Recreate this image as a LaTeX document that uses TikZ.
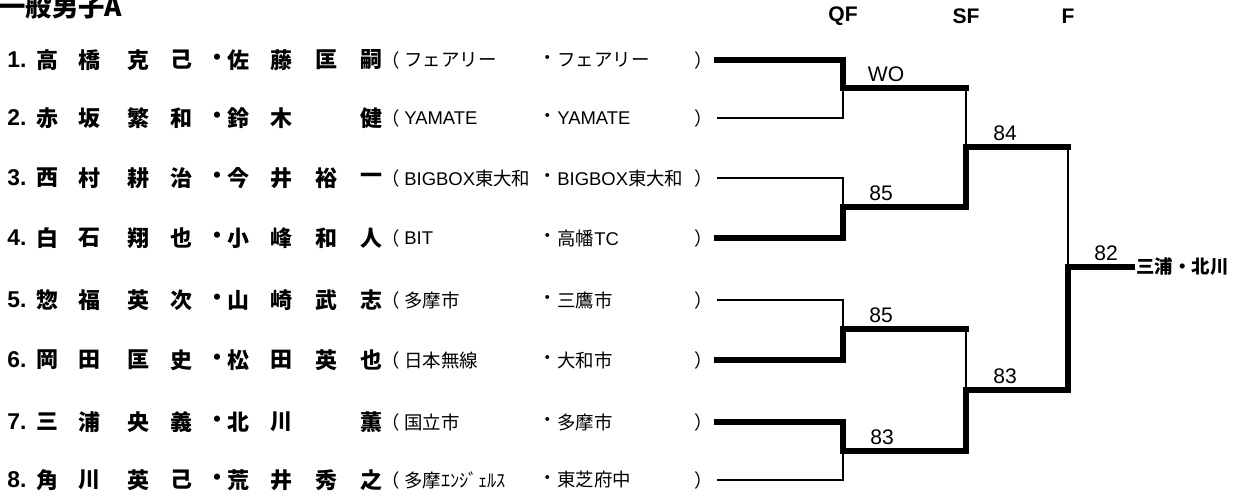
\documentclass[tikz,border=0pt]{standalone}
\usepackage{fontspec}
\setmainfont{Noto Sans CJK JP}
\newfontfamily\latinfont{Liberation Sans}

\tikzset{
  seed/.style={anchor=west, inner sep=0pt, font=\fontsize{13}{15}\selectfont\latinfont\bfseries},
  player/.style={inner sep=0pt, font=\fontsize{12.5}{15}\selectfont\bfseries},
  club/.style={anchor=west, inner sep=0pt, font=\fontsize{10.5}{12}\selectfont},
  round/.style={inner sep=0pt, font=\fontsize{12}{14}\selectfont\latinfont\bfseries},
  score/.style={anchor=south, inner sep=0pt, font=\fontsize{12}{14}\selectfont\latinfont},
  win/.style={line width=3pt, line cap=rect},
  lose/.style={line width=1pt},
}

\begin{document}
\begin{tikzpicture}[x=0.02cm, y=-0.02cm]

    \useasboundingbox (0,0) rectangle (1253,501);

    \node[anchor=base west, inner sep=0pt, font=\fontsize{15}{17}\selectfont\bfseries] (title) at (-1,16) {一般男子A};

    \node[round] (qf) at (843,16) {QF};
    \node[round] (sf) at (966,16) {SF};
    \node[round] (fn) at (1068,16) {F};

    % entries
    \foreach \r/\y/\nm/\ca/\cb in {
      1/60/{高,橋,克,己,・,佐,藤,匡,嗣}/フェアリー/フェアリー,
      2/118/{赤,坂,繁,和,・,鈴,木,,健}/{\latinfont YAMATE}/{\latinfont YAMATE},
      3/178/{西,村,耕,治,・,今,井,裕,一}/{{\latinfont BIGBOX}東大和}/{{\latinfont BIGBOX}東大和},
      4/238/{白,石,翔,也,・,小,峰,和,人}/{\latinfont BIT}/{高幡{\latinfont TC}},
      5/300/{惣,福,英,次,・,山,崎,武,志}/多摩市/三鷹市,
      6/360/{岡,田,匡,史,・,松,田,英,也}/日本無線/大和市,
      7/422/{三,浦,央,義,・,北,川,,薫}/国立市/多摩市,
      8/480/{角,川,英,己,・,荒,井,秀,之}/多摩ｴﾝｼﾞｪﾙｽ/東芝府中}
    {
      \node[seed] (n\r) at (7,\y) {\r.};
      \foreach \c [count=\i] in \nm {
        \pgfmathsetmacro{\xx}{{47,89,138,181,217,238,281,326,371}[\i-1]}
        \node[player] (p\r-\i) at (\xx,\y) {\c};
      }
      \node[club] (lp\r) at (381,\y) {（};
      \node[club] (ca\r) at (404,\y) {\ca};
      \node[club] (dot\r) at (538,\y) {・};
      \node[club] (cb\r) at (557,\y) {\cb};
      \node[club] (rp\r) at (694,\y) {）};
      \coordinate (e\r) at (717,\y);
    }

    \coordinate (q1) at (843,88);
    \coordinate (q2) at (843,207);
    \coordinate (q3) at (843,329);
    \coordinate (q4) at (843,451);
    \coordinate (s1) at (966,147);
    \coordinate (s2) at (966,390);
    \coordinate (f) at (1068,267);
    \coordinate (fin) at (1132,267);

    % quarter finals
    \draw[win] (e1) -| (q1);
    \draw[lose] (e2) -| (q1);
    \draw[lose] (e3) -| (q2);
    \draw[win] (e4) -| (q2);
    \draw[lose] (e5) -| (q3);
    \draw[win] (e6) -| (q3);
    \draw[win] (e7) -| (q4);
    \draw[lose] (e8) -| (q4);

    % semi finals
    \draw[win] (q1) -- (q1 -| s1);
    \draw[lose] (q1 -| s1) -- (s1);
    \draw[win] (q2) -| (s1);
    \draw[win] (q3) -- (q3 -| s2);
    \draw[lose] (q3 -| s2) -- (s2);
    \draw[win] (q4) -| (s2);

    % final
    \draw[win] (s1) -- (s1 -| f);
    \draw[lose] (s1 -| f) -- (f);
    \draw[win] (s2) -| (f);
    \draw[win] (f) -- (fin);

    \node[score] (wo) at (886,82) {WO};
    \node[score] (sc2) at (881,201) {85};
    \node[score] (sc3) at (881,323) {85};
    \node[score] (sc4) at (882,445) {83};
    \node[score] (sc5) at (1005,141) {84};
    \node[score] (sc6) at (1005,384) {83};
    \node[score] (sc7) at (1106,261) {82};

    \node[anchor=west, inner sep=0pt, font=\fontsize{10.5}{12}\selectfont\bfseries] (champ) at (1136,267) {三浦・北川};

\end{tikzpicture}
\end{document}
